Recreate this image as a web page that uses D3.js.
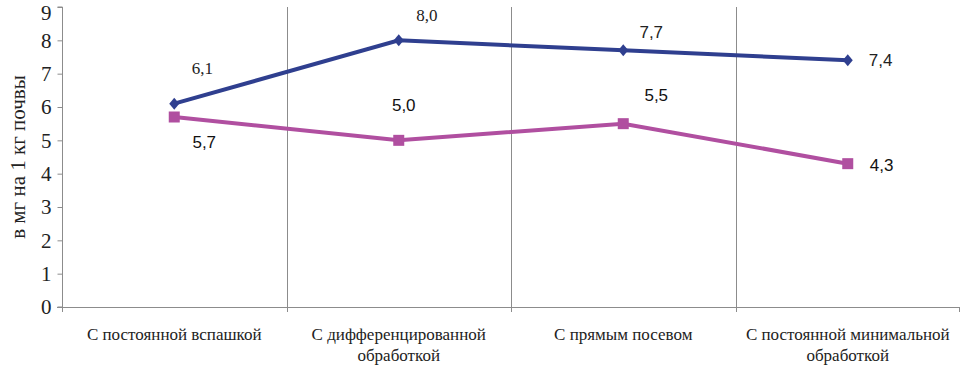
<!DOCTYPE html>
<html>
<head>
<meta charset="utf-8">
<script src="https://cdn.jsdelivr.net/npm/d3@7"></script>
<style>
  body { margin: 0; background: #fff; }
  svg { display: block; }
  .serif { font-family: "Liberation Serif", "DejaVu Serif", "Noto Serif", Times, serif; }
  .sans { font-family: "Liberation Sans", Arial, sans-serif; }
</style>
</head>
<body>
<div id="chart"></div>
<script>
// --- данные ---
const categories = [
  "С постоянной вспашкой",
  "С дифференцированной обработкой",
  "С прямым посевом",
  "С постоянной минимальной обработкой"
];
const categoryLines = [
  ["С постоянной вспашкой"],
  ["С дифференцированной", "обработкой"],
  ["С прямым посевом"],
  ["С постоянной минимальной", "обработкой"]
];
const seriesBlue = [6.1, 8.0, 7.7, 7.4];
const seriesPink = [5.7, 5.0, 5.5, 4.3];
const yTicks = [0, 1, 2, 3, 4, 5, 6, 7, 8, 9];
const yLabel = "в мг на 1 кг почвы";

const width = 961, height = 367;
const margin = { top: 7, right: 0, bottom: 60, left: 62 };

const svg = d3.select("#chart").append("svg")
  .attr("width", width)
  .attr("height", height);

const x = d3.scaleBand()
  .domain(categories)
  .range([margin.left, width - 1])
  .padding(0);

const y = d3.scaleLinear()
  .domain([0, 9])
  .range([height - margin.bottom, margin.top]);

const cx = c => x(c) + x.bandwidth() / 2;

// вертикальные линии сетки
svg.append("g")
  .selectAll("line")
  .data(categories.slice(1))
  .join("line")
  .attr("x1", d => Math.round(x(d)) + 0.5)
  .attr("x2", d => Math.round(x(d)) + 0.5)
  .attr("y1", y(9))
  .attr("y2", y(0) + 5)
  .attr("stroke", "#8c8c8c")
  .attr("stroke-width", 1);

// правая граница тика
svg.append("line")
  .attr("x1", width - 1.5).attr("x2", width - 1.5)
  .attr("y1", y(0)).attr("y2", y(0) + 5)
  .attr("stroke", "#8c8c8c");

// ось Y
const yAxis = svg.append("g")
  .attr("transform", `translate(${margin.left + 0.5},0)`)
  .call(d3.axisLeft(y).tickValues(yTicks).tickSize(5).tickPadding(6).tickFormat(d3.format("d")));
yAxis.attr("font-family", null).attr("font-size", null);
yAxis.select(".domain").attr("stroke", "#8c8c8c").attr("d", `M-5,${y(9)}H0V${y(0)}H-5`);
yAxis.selectAll(".tick line").attr("stroke", "#8c8c8c");
yAxis.selectAll(".tick text")
  .attr("class", "serif")
  .style("font-size", "21px")
  .attr("dy", d => d === 9 ? "0.6em" : "0.32em")
  .attr("fill", "#222");

// ось X
svg.append("line")
  .attr("x1", margin.left - 5).attr("x2", width - 1)
  .attr("y1", y(0) + 0.5).attr("y2", y(0) + 0.5)
  .attr("stroke", "#8c8c8c");
svg.append("line")
  .attr("x1", margin.left + 0.5).attr("x2", margin.left + 0.5)
  .attr("y1", y(0)).attr("y2", y(0) + 5)
  .attr("stroke", "#8c8c8c");

// подписи категорий
const xl = svg.append("g")
  .selectAll("text")
  .data(categories)
  .join("text")
  .attr("class", "serif")
  .attr("x", d => cx(d))
  .attr("y", y(0) + 33)
  .attr("text-anchor", "middle")
  .style("font-size", "17px")
  .attr("fill", "#222");
xl.each(function(d, i) {
  d3.select(this).selectAll("tspan")
    .data(categoryLines[i])
    .join("tspan")
    .attr("x", cx(d))
    .attr("dy", (t, j) => j === 0 ? 0 : 21)
    .text(t => t);
});

// подпись оси Y
svg.append("text")
  .attr("class", "serif")
  .attr("transform", `translate(25,${(y(0) + y(9)) / 2}) rotate(-90)`)
  .attr("text-anchor", "middle")
  .style("font-size", "21px")
  .attr("fill", "#222")
  .text(yLabel);

// линии
const line = d3.line()
  .x((d, i) => cx(categories[i]))
  .y(d => y(d));

const blue = "#2f3f8f";
const pink = "#b04fa0";

svg.append("path")
  .datum(seriesBlue)
  .attr("d", line)
  .attr("fill", "none")
  .attr("stroke", blue)
  .attr("stroke-width", 4);

svg.append("path")
  .datum(seriesPink)
  .attr("d", line)
  .attr("fill", "none")
  .attr("stroke", pink)
  .attr("stroke-width", 4);

// маркеры
svg.append("g")
  .selectAll("path")
  .data(seriesBlue)
  .join("path")
  .attr("transform", (d, i) => `translate(${cx(categories[i])},${y(d)})`)
  .attr("d", "M0,-6L5,0L0,6L-5,0Z")
  .attr("fill", blue);

svg.append("g")
  .selectAll("rect")
  .data(seriesPink)
  .join("rect")
  .attr("x", (d, i) => cx(categories[i]) - 5.5)
  .attr("y", d => y(d) - 5.5)
  .attr("width", 11)
  .attr("height", 11)
  .attr("fill", pink);

// подписи значений
const fmt = v => v.toFixed(1).replace(".", ",");
const blueOffsets = [[28, -30], [28, -19], [28, -12], [21, 6]];
const pinkOffsets = [[30, 31], [5, -29], [33, -23], [22, 7]];

svg.append("g")
  .selectAll("text")
  .data(seriesBlue)
  .join("text")
  .attr("class", (d, i) => i < 2 ? "serif" : "sans")
  .attr("x", (d, i) => cx(categories[i]) + blueOffsets[i][0])
  .attr("y", (d, i) => y(d) + blueOffsets[i][1])
  .attr("text-anchor", (d, i) => i === 3 ? "start" : "middle")
  .style("font-size", "17px")
  .attr("fill", "#222")
  .text(fmt);

svg.append("g")
  .selectAll("text")
  .data(seriesPink)
  .join("text")
  .attr("class", "sans")
  .attr("x", (d, i) => cx(categories[i]) + pinkOffsets[i][0])
  .attr("y", (d, i) => y(d) + pinkOffsets[i][1])
  .attr("text-anchor", (d, i) => i === 3 ? "start" : "middle")
  .style("font-size", "17px")
  .attr("fill", "#111")
  .text(fmt);
</script>
</body>
</html>
